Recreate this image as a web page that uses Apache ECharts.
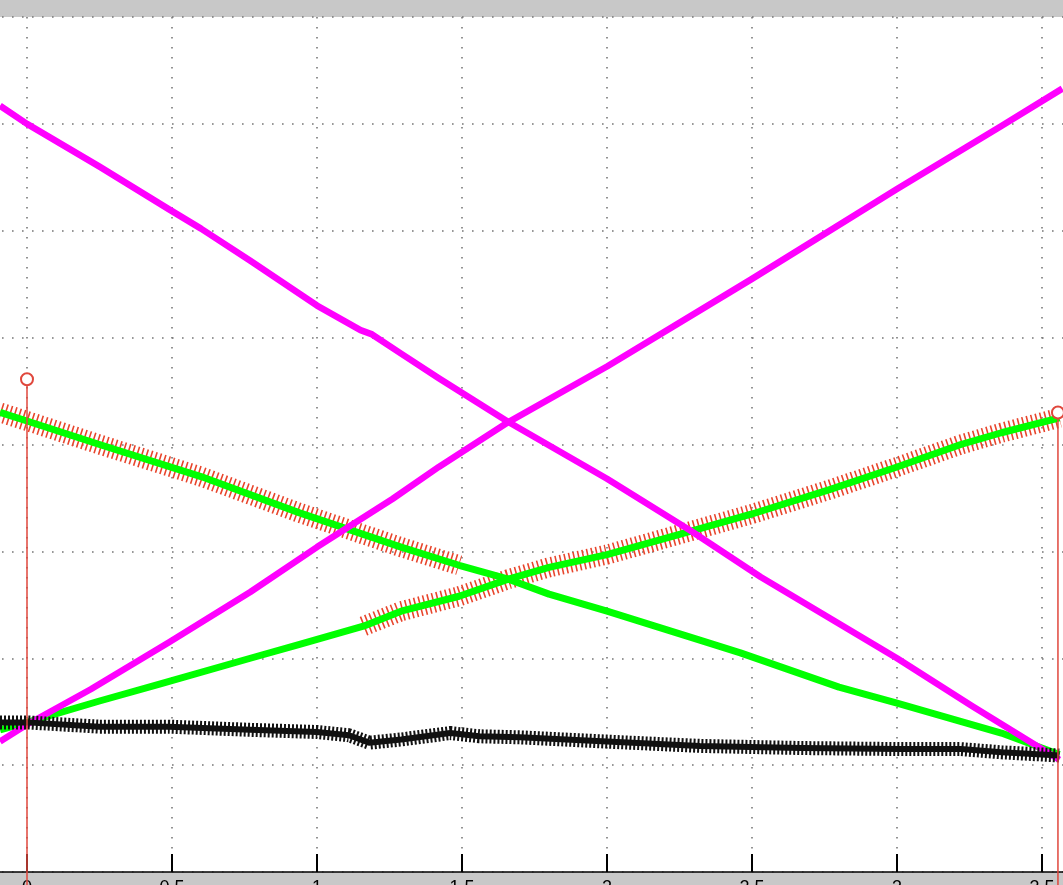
<!DOCTYPE html>
<html>
<head>
<meta charset="utf-8">
<script src="https://cdn.jsdelivr.net/npm/echarts@6/dist/echarts.min.js"></script>
<style>
  html, body { margin: 0; padding: 0; background: #c8c8c8; overflow: hidden; }
  /* the axes run past both edges of the window, so the chart box is wider than the page */
  #chart-container { width: 1305px; height: 885px; margin-left: -118px; }
</style>
</head>
<body>
<div id="chart-container"></div>
<script>
// values: x along the bottom axis, y in grid units (0 = axis, 8 = top)
var xTickLabels = ['0', '0.5', '1', '1.5', '2', '2.5', '3', '3.5'];

var magentaDown = [[-0.093, 7.17], [0, 7.0], [0.25, 6.6], [0.49, 6.2], [0.6, 6.02], [0.77, 5.72],
    [1.0, 5.30], [1.15, 5.07], [1.19, 5.03], [1.29, 4.85], [1.42, 4.62], [1.66, 4.21], [2.0, 3.68],
    [2.29, 3.19], [2.53, 2.76], [3.0, 2.0], [3.26, 1.55], [3.56, 1.05]];

var magentaUp = [[-0.093, 1.22], [0, 1.38], [0.22, 1.71], [0.49, 2.15], [0.77, 2.62], [1.0, 3.04],
    [1.26, 3.49], [1.42, 3.79], [1.66, 4.21], [2.0, 4.73], [2.5, 5.55], [3.0, 6.39],
    [3.36, 6.98], [3.57, 7.33]];

var greenDown = [[-0.093, 4.30], [0, 4.22], [0.25, 4.0], [0.6, 3.70], [0.94, 3.36], [1.29, 3.04],
    [1.49, 2.87], [1.66, 2.74], [1.8, 2.60], [2.0, 2.44], [2.32, 2.17], [2.46, 2.05],
    [2.8, 1.73], [3.0, 1.58], [3.36, 1.30], [3.49, 1.17], [3.56, 1.10]];

var greenUp = [[-0.093, 1.33], [0, 1.40], [0.25, 1.60], [0.46, 1.76], [0.77, 2.0], [0.94, 2.13],
    [1.16, 2.30], [1.29, 2.44], [1.49, 2.58], [1.66, 2.74], [1.8, 2.85], [2.0, 2.97],
    [2.29, 3.19], [2.5, 3.35], [2.77, 3.58], [3.0, 3.79], [3.22, 4.0], [3.36, 4.11], [3.56, 4.25]];

var redDown = [[-0.093, 4.30], [0, 4.22], [0.25, 4.0], [0.6, 3.70], [0.94, 3.36], [1.29, 3.04],
    [1.49, 2.87]];

var redUp = [[1.16, 2.30], [1.29, 2.44], [1.49, 2.58], [1.66, 2.74], [1.8, 2.85], [2.0, 2.97],
    [2.29, 3.19], [2.5, 3.35], [2.77, 3.58], [3.0, 3.79], [3.22, 4.0], [3.36, 4.11], [3.56, 4.25]];

var blackLine = [[-0.093, 1.40], [0, 1.40], [0.25, 1.36], [0.49, 1.36], [0.77, 1.33], [1.0, 1.31],
    [1.11, 1.28], [1.18, 1.21], [1.29, 1.24], [1.46, 1.30], [1.56, 1.27], [1.70, 1.26],
    [2.0, 1.22], [2.32, 1.18], [2.67, 1.16], [3.01, 1.15], [3.22, 1.15], [3.36, 1.12], [3.56, 1.09]];

var stemX = [0, 3.555];
var stemTop = [4.61, 4.30];

var dom = document.getElementById('chart-container');
var myChart = echarts.init(dom, null, { renderer: 'canvas' });

function thick(name, data, color, width, dash, z) {
    return {
        name: name,
        type: 'line',
        data: data,
        symbol: 'none',
        z: z,
        lineStyle: { color: color, width: width, type: dash || 'solid', cap: 'butt', join: 'round' }
    };
}

var series = [
    thick('red down', redDown, '#e8452c', 20, [1.6, 3], 2),
    thick('red up', redUp, '#e8452c', 20, [1.6, 3], 2),
    thick('green down', greenDown, '#00ff00', 7, null, 3),
    thick('green up', greenUp, '#00ff00', 7, null, 3),
    thick('magenta down', magentaDown, '#ff00ff', 6.5, null, 4),
    thick('magenta up', magentaUp, '#ff00ff', 6.5, null, 4),
    thick('black', blackLine, '#111111', 6, null, 5),
    thick('black stars', blackLine, '#111111', 14, [2, 2], 5)
];

stemX.forEach(function (x, i) {
    series.push({
        type: 'line',
        clip: false,
        z: 6,
        data: [
            { value: [x, -0.3], symbol: 'none' },
            { value: [x, stemTop[i]], symbol: 'emptyCircle', symbolSize: 12 }
        ],
        lineStyle: { color: '#e0473c', width: 1.5 },
        itemStyle: { color: '#e0473c', borderWidth: 1.5 }
    });
});

var dotted = { color: '#777', width: 1.6, type: [1.6, 8.4] };

var option = {
    animation: false,
    backgroundColor: '#c8c8c8',
    grid: {
        left: 0,
        right: 0,
        top: 17,
        bottom: 13,
        outerBoundsMode: 'none',
        containLabel: false,
        show: true,
        backgroundColor: '#ffffff',
        borderWidth: 0
    },
    xAxis: [{
        type: 'value',
        position: 'bottom',
        min: -0.5,
        max: 4,
        interval: 0.5,
        axisLine: { show: true, onZero: false, lineStyle: { color: '#000', width: 1.5 } },
        axisTick: { show: true, inside: true, length: 18, lineStyle: { color: '#000', width: 2 } },
        axisLabel: {
            margin: 7,
            color: '#000',
            fontSize: 18,
            fontFamily: 'Liberation Sans, Arial, sans-serif',
            formatter: function (v) {
                var k = Math.round(v / 0.5);
                return (k >= 0 && k < xTickLabels.length) ? xTickLabels[k] : '';
            }
        },
        splitLine: { show: true, lineStyle: dotted }
    }, {
        // second copy, only for the inward tick marks on the bottom edge
        type: 'value',
        position: 'bottom',
        offset: 0,
        min: -0.5,
        max: 4,
        interval: 0.5,
        axisLine: { show: false, onZero: false },
        axisTick: { show: true, inside: true, length: 18, lineStyle: { color: '#000', width: 2 } },
        axisLabel: { show: false },
        splitLine: { show: false }
    }],
    yAxis: {
        type: 'value',
        min: 0,
        max: 8,
        interval: 1,
        axisLine: { show: false },
        axisTick: { show: false },
        axisLabel: { show: false },
        splitLine: { show: true, lineStyle: dotted }
    },
    series: series
};

myChart.setOption(option);
</script>
</body>
</html>
